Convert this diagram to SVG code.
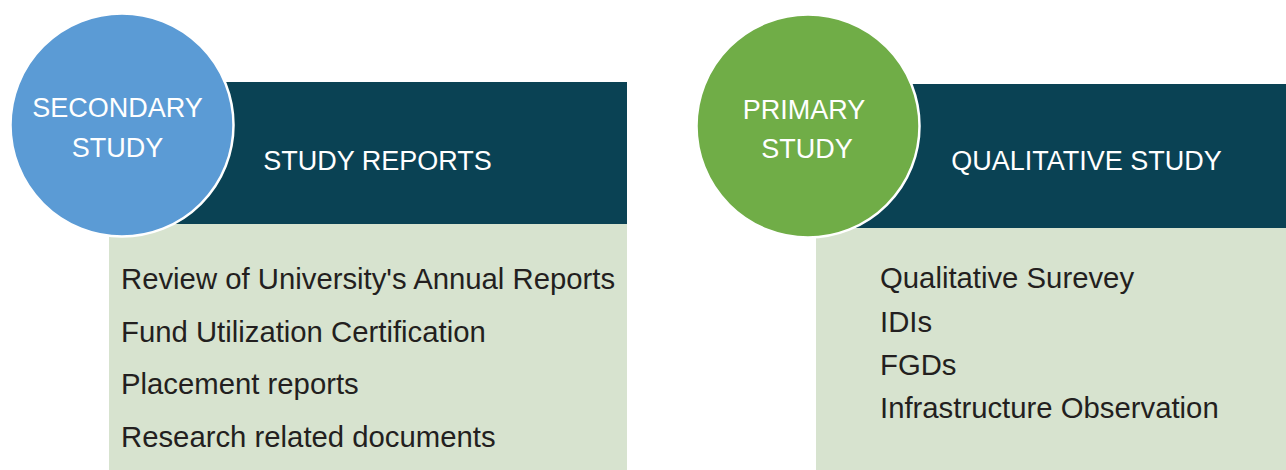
<svg xmlns="http://www.w3.org/2000/svg" width="1286" height="470" viewBox="0 0 1286 470">
<style>
.hdr{fill:#0a4254}
.body{fill:#d7e3cf}
.t{font-family:"Liberation Sans",Arial,sans-serif}
.w{fill:#ffffff;font-size:27px;text-anchor:middle}
.li{fill:#231f20;font-size:29.3px}
.circ{stroke:#ffffff;stroke-width:2.5}
</style>
<rect width="1286" height="470" fill="#ffffff"/>
<g id="secondary-panel">
<rect class="hdr" x="109" y="82" width="518" height="142"/>
<rect class="body" x="109" y="224" width="518" height="246"/>
<text class="t w" x="377.5" y="170">STUDY REPORTS</text>
<text class="t li" x="121" y="289">Review of University's Annual Reports</text>
<text class="t li" x="121" y="342">Fund Utilization Certification</text>
<text class="t li" x="121" y="394">Placement reports</text>
<text class="t li" x="121" y="447">Research related documents</text>
</g>
<g id="secondary-circle">
<circle class="circ" cx="122" cy="125" r="111.5" fill="#5b9bd5"/>
<text class="t w" x="117.5" y="117">SECONDARY</text>
<text class="t w" x="117.5" y="157">STUDY</text>
</g>
<g id="primary-panel">
<rect class="hdr" x="816" y="84" width="470" height="144"/>
<rect class="body" x="816" y="228" width="470" height="242"/>
<text class="t w" x="1086.5" y="170">QUALITATIVE STUDY</text>
<text class="t li" x="880" y="288">Qualitative Surevey</text>
<text class="t li" x="880" y="332">IDIs</text>
<text class="t li" x="880" y="375">FGDs</text>
<text class="t li" x="880" y="418">Infrastructure Observation</text>
</g>
<g id="primary-circle">
<circle class="circ" cx="808" cy="126" r="111.5" fill="#70ad47"/>
<text class="t w" x="804" y="119">PRIMARY</text>
<text class="t w" x="807" y="158">STUDY</text>
</g>
<g id="connectors"/>
</svg>
